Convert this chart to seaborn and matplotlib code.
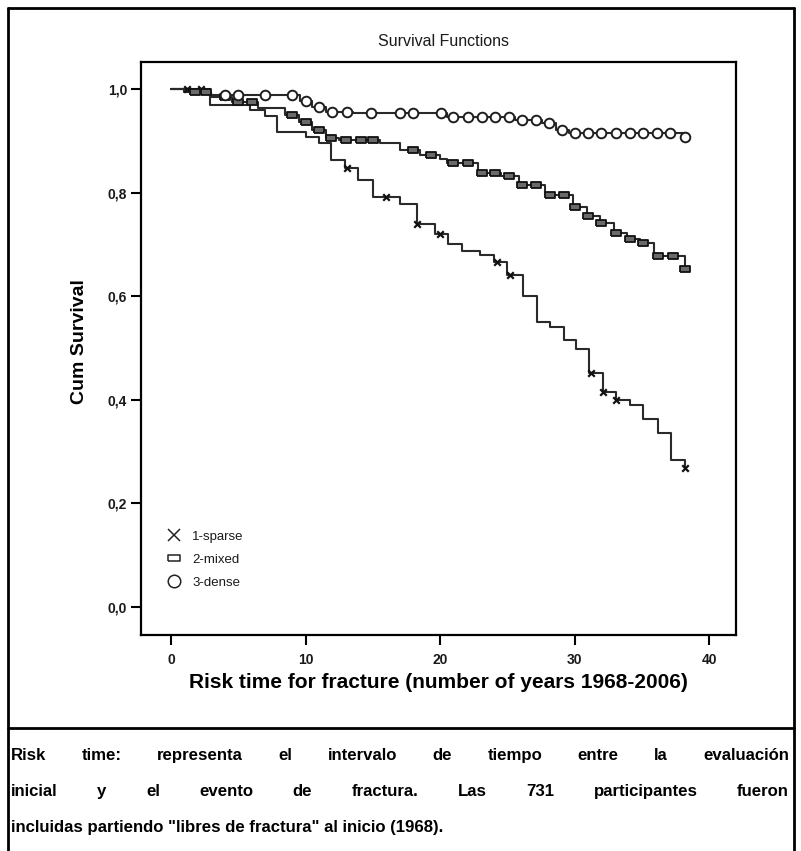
import numpy as np
import pandas as pd
import matplotlib
matplotlib.use("Agg")
import matplotlib.pyplot as plt
import seaborn as sns
from matplotlib import font_manager
from matplotlib.lines import Line2D

# ---------------- data ----------------
groups = ["1-sparse", "2-mixed", "3-dense"]

sparse_time = [0, 2.9, 5.9, 7.0, 7.9, 10.0, 11.0, 11.9, 12.9, 13.9, 15.0, 17.0, 18.3,
               19.6, 20.6, 21.6, 23.0, 24.0, 25.0, 26.2, 27.2, 28.2, 29.2, 30.1, 31.1,
               32.1, 33.1, 34.1, 35.1, 36.2, 37.2, 38.2]
sparse_surv = [1.0, 0.969, 0.959, 0.947, 0.916, 0.908, 0.896, 0.863, 0.847, 0.824, 0.792,
               0.778, 0.740, 0.720, 0.700, 0.688, 0.680, 0.665, 0.640, 0.600, 0.550, 0.540,
               0.515, 0.499, 0.451, 0.416, 0.400, 0.390, 0.362, 0.335, 0.284, 0.268]
sparse_cens = [1.2, 2.2, 13.1, 16.0, 18.3, 20.0, 24.2, 25.2, 31.2, 32.1, 33.1, 38.2]

mixed_time = [0, 1.0, 3.0, 4.5, 6.5, 8.5, 9.5, 10.5, 11.5, 12.5, 15.5, 17.0, 18.5, 20.0,
              20.5, 22.8, 24.5, 25.9, 27.8, 29.9, 30.9, 31.9, 32.9, 33.9, 34.9, 35.9, 38.2]
mixed_surv = [1.0, 0.995, 0.985, 0.975, 0.963, 0.950, 0.937, 0.921, 0.905, 0.901, 0.895,
              0.882, 0.873, 0.864, 0.858, 0.837, 0.831, 0.815, 0.795, 0.773, 0.754, 0.741,
              0.721, 0.711, 0.702, 0.677, 0.652]
mixed_cens = [1.8, 2.6, 4.0, 5.0, 6.0, 9.0, 10.0, 11.0, 11.9, 13.0, 14.1, 15.0, 18.0, 19.3,
              21.0, 22.1, 23.1, 24.1, 25.1, 26.1, 27.1, 28.2, 29.2, 30.0, 31.0, 32.0, 33.1,
              34.1, 35.1, 36.2, 37.3, 38.2]

dense_time = [0, 1.5, 3.0, 9.6, 10.5, 11.5, 13.5, 20.5, 25.6, 27.6, 28.6, 29.6, 38.2]
dense_surv = [1.0, 0.994, 0.988, 0.976, 0.966, 0.956, 0.953, 0.946, 0.940, 0.934, 0.921,
              0.914, 0.907]
dense_cens = [4.0, 5.0, 7.0, 9.0, 10.0, 11.0, 12.0, 13.1, 14.9, 17.0, 18.0, 20.1, 21.0,
              22.1, 23.1, 24.1, 25.1, 26.1, 27.1, 28.1, 29.1, 30.0, 31.0, 32.0, 33.1, 34.1,
              35.1, 36.1, 37.1, 38.2]

x_ticks = [0, 10, 20, 30, 40]
y_ticks = [0.0, 0.2, 0.4, 0.6, 0.8, 1.0]
y_tick_labels = ["0,0", "0,2", "0,4", "0,6", "0,8", "1,0"]

title_text = "Survival Functions"
x_label = "Risk time for fracture (number of years 1968-2006)"
y_label = "Cum Survival"
caption_lines = [
    "Risk time: representa el intervalo de tiempo entre la evaluación",
    "inicial y el evento de fractura. Las 731 participantes fueron",
    "incluidas partiendo \"libres de fractura\" al inicio (1968).",
]

# ---------------- style ----------------
sns.set_theme(style="white")
names = {f.name for f in font_manager.fontManager.ttflist}
narrow = "Liberation Sans Narrow" if "Liberation Sans Narrow" in names else "Liberation Sans"
plt.rcParams["font.family"] = ["Liberation Sans", "DejaVu Sans"]

LINE = "#2a2a2a"
W_PX, H_PX = 801, 851
fig = plt.figure(figsize=(W_PX / 100, H_PX / 100), dpi=100)
fig.patch.set_facecolor("white")

ax_l, ax_r, ax_t, ax_b = 141, 736, 62, 635
ax = fig.add_axes([ax_l / W_PX, 1 - ax_b / H_PX, (ax_r - ax_l) / W_PX, (ax_b - ax_t) / H_PX])

# step curves
rows = []
for g, t, s in zip(groups, [sparse_time, mixed_time, dense_time],
                   [sparse_surv, mixed_surv, dense_surv]):
    for ti, si in zip(t, s):
        rows.append((g, ti, si))
df = pd.DataFrame(rows, columns=["group", "time", "surv"])
sns.lineplot(data=df, x="time", y="surv", hue="group", palette={g: LINE for g in groups},
             estimator=None, sort=False, drawstyle="steps-post", linewidth=1.5,
             legend=False, ax=ax)


def step_lookup(times, survs, xs):
    times = np.asarray(times)
    survs = np.asarray(survs)
    idx = np.searchsorted(times, np.asarray(xs), side="right") - 1
    return survs[idx]


rect = [(-1, -0.55), (1, -0.55), (1, 0.55), (-1, 0.55), (-1, -0.55)]

cens_sets = [
    (sparse_time, sparse_surv, sparse_cens, dict(marker="x", s=22, color="#111111", linewidth=1.6)),
    (mixed_time, mixed_surv, mixed_cens, dict(marker=rect, s=60, facecolor="#6a6a6a", edgecolor="#111111", linewidth=1.3)),
    (dense_time, dense_surv, dense_cens, dict(marker="o", s=48, facecolor="white", edgecolor="#1e1e1e", linewidth=1.4)),
]
for t, s, c, kw in cens_sets:
    cdf = pd.DataFrame({"time": c, "surv": step_lookup(t, s, c)})
    sns.scatterplot(data=cdf, x="time", y="surv", ax=ax, zorder=3, legend=False, **kw)

# axes
ax.set_xlim(-2.23, 42.0)
ax.set_ylim(-0.054, 1.052)
ax.set_xticks(x_ticks)
ax.set_xticklabels([str(v) for v in x_ticks])
ax.set_yticks(y_ticks)
ax.set_yticklabels(y_tick_labels)
ax.tick_params(axis="both", which="major", direction="out", length=7, width=1.5,
               colors="black", labelsize=10, bottom=True, left=True, top=False, right=False,
               pad=3)
ax.tick_params(axis="x", pad=6)
for lab in ax.get_xticklabels() + ax.get_yticklabels():
    lab.set_fontweight("bold")
    lab.set_color("#1a1a1a")
for sp in ax.spines.values():
    sp.set_visible(True)
    sp.set_color("black")
    sp.set_linewidth(1.6)

ax.set_xlabel(x_label, fontsize=15, fontweight="bold", color="black", labelpad=4)
ax.set_ylabel(y_label, fontsize=14, fontweight="bold", color="black")
ax.yaxis.set_label_coords((88 - ax_l) / (ax_r - ax_l), (ax_b - 342) / (ax_b - ax_t))
fig.text(444 / W_PX, 1 - 41 / H_PX, title_text, ha="center", va="center", fontsize=11.5,
         color="#1a1a1a")

# legend
handles = [
    Line2D([], [], linestyle="none", marker="x", markersize=9, markeredgewidth=1.1, color="#222222"),
    Line2D([], [], linestyle="none", marker=rect, markersize=9, markeredgewidth=1.1,
           markerfacecolor="white", markeredgecolor="#222222"),
    Line2D([], [], linestyle="none", marker="o", markersize=9, markeredgewidth=1.1,
           markerfacecolor="white", markeredgecolor="#222222"),
]
leg = ax.legend(handles, groups, loc="upper left", bbox_to_anchor=(0.045, 0.182),
                frameon=False, fontsize=9.5, handlelength=1.0, handletextpad=0.85,
                labelspacing=0.82, borderpad=0, borderaxespad=0)
for txt in leg.get_texts():
    txt.set_color("#1a1a1a")

# outer frame and caption separator
def fig_line(x0, y0, x1, y1, lw=2.0):
    fig.add_artist(Line2D([x0 / W_PX, x1 / W_PX], [1 - y0 / H_PX, 1 - y1 / H_PX],
                          transform=fig.transFigure, color="black", linewidth=lw))

fig_line(8, 8, 794, 8)
fig_line(8, 8, 8, 851)
fig_line(794, 8, 794, 851)
fig_line(8, 728, 794, 728)

# caption (justified, bold); positions are text baselines in pixels
fig.canvas.draw()
renderer = fig.canvas.get_renderer()
cap_left, cap_right = 11, 789
cap_base = [760, 796, 832]
cap_fs = 12.5
probe = fig.text(0, 0, caption_lines[2], fontsize=cap_fs, fontweight="bold", family=[narrow, "DejaVu Sans"])
w3 = probe.get_window_extent(renderer).width
probe.remove()
cap_fs = cap_fs * 436 / w3

for i, line in enumerate(caption_lines):
    y = 1 - cap_base[i] / H_PX
    if i < len(caption_lines) - 1:
        words = line.split(" ")
        ts = [fig.text(0, y, w, fontsize=cap_fs, fontweight="bold", va="baseline", ha="left",
                       family=[narrow, "DejaVu Sans"], color="black") for w in words]
        widths = [t.get_window_extent(renderer).width for t in ts]
        gap = (cap_right - cap_left - sum(widths)) / (len(words) - 1)
        x = cap_left
        for t, w in zip(ts, widths):
            t.set_x(x / W_PX)
            x += w + gap
    else:
        fig.text(cap_left / W_PX, y, line, fontsize=cap_fs, fontweight="bold", va="baseline",
                 ha="left", family=[narrow, "DejaVu Sans"], color="black")

fig.savefig("out.png", dpi=100, facecolor="white")
